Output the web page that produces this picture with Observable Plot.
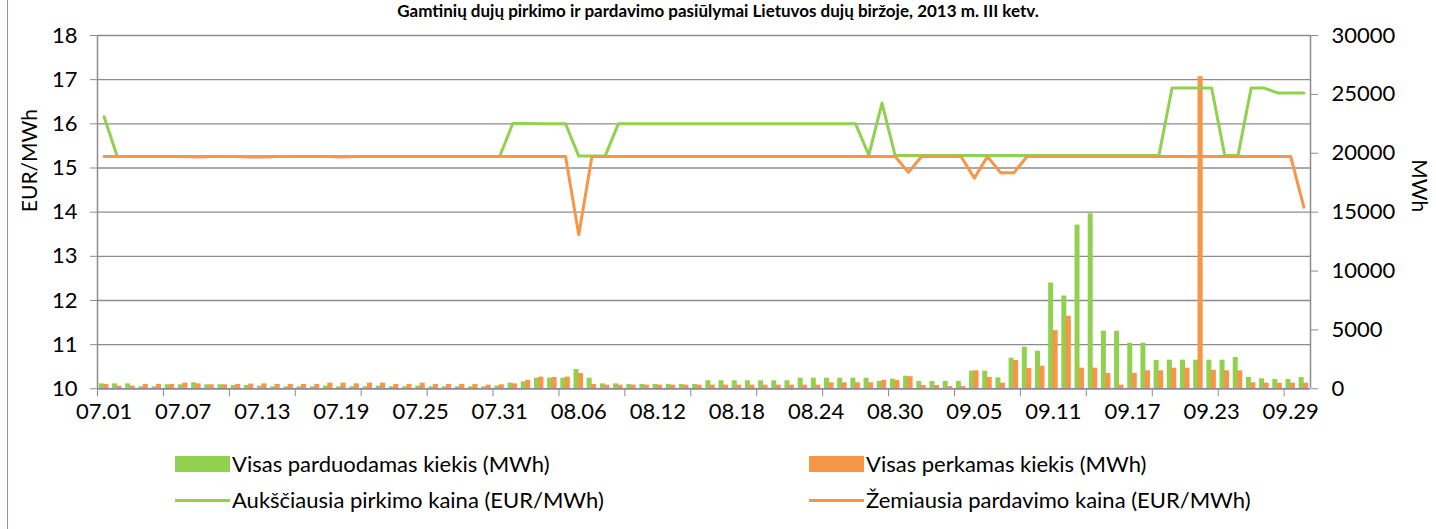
<!DOCTYPE html>
<html>
<head>
<meta charset="utf-8">
<script src="https://cdn.jsdelivr.net/npm/d3@7"></script>
<script src="https://cdn.jsdelivr.net/npm/@observablehq/plot@0.6"></script>
<style>
  html, body { margin: 0; padding: 0; background: #fff; }
  body { width: 1436px; height: 529px; position: relative; overflow: hidden; font-family: Lato, "Open Sans", sans-serif; }
  #frame { position: absolute; left: 7px; top: 0; width: 1px; height: 529px; background: #7a96c8; }
  #title { position: absolute; left: 0; width: 1436px; top: 1px; text-align: center; font-weight: bold; font-size: 17px; line-height: 19px; white-space: nowrap; }
  #chart { position: absolute; left: 0; top: 0; }
  .lg { position: absolute; font-size: 22px; line-height: 26px; white-space: nowrap; color: #000; }
  .sw { position: absolute; }
</style>
</head>
<body>
<div id="frame"></div>
<div id="chart"></div>
<div id="title">Gamtinių dujų pirkimo ir pardavimo pasiūlymai Lietuvos dujų biržoje, 2013 m. III ketv.</div>
<div id="legend"></div>
<script>
// Categories (days, 2013 Q3)
const dates = [
 "07.01","07.02","07.03","07.04","07.05","07.06","07.07","07.08","07.09","07.10","07.11","07.12","07.13","07.14","07.15","07.16","07.17","07.18","07.19","07.20","07.21","07.22","07.23","07.24","07.25","07.26","07.27","07.28","07.29","07.30","07.31",
 "08.01","08.02","08.03","08.04","08.05","08.06","08.07","08.08","08.09","08.10","08.11","08.12","08.13","08.14","08.15","08.16","08.17","08.18","08.19","08.20","08.21","08.22","08.23","08.24","08.25","08.26","08.27","08.28","08.29","08.30","08.31",
 "09.01","09.02","09.03","09.04","09.05","09.06","09.07","09.08","09.09","09.10","09.11","09.12","09.13","09.14","09.15","09.16","09.17","09.18","09.19","09.20","09.21","09.22","09.23","09.24","09.25","09.26","09.27","09.28","09.29","09.30"
];
// Visas parduodamas kiekis (MWh)
const sellQty = [
 420,420,420,170,170,340,340,510,340,340,280,280,230,170,170,170,170,230,170,170,170,230,170,170,230,170,170,170,170,170,230,
 480,590,900,900,900,1640,900,420,420,370,370,370,370,370,370,680,680,680,680,680,680,680,900,900,900,900,900,900,630,820,1070,
 620,620,620,620,1500,1500,930,2600,3530,3190,8980,7880,13900,14860,4890,4890,3870,3870,2400,2430,2430,2430,2430,2430,2660,960,850,790,790,960
];
// Visas perkamas kiekis (MWh)
const buyQty = [
 370,230,230,370,370,370,480,420,340,340,370,400,420,370,370,370,370,480,480,420,480,480,370,370,480,370,370,370,370,310,340,
 420,710,990,960,990,1300,370,310,310,310,310,310,310,310,310,310,310,310,310,310,310,310,310,310,510,510,510,510,710,710,1020,
 280,280,200,200,1530,960,480,2400,1720,1920,4940,6160,1750,1750,1300,310,1300,1530,1530,1750,1750,26500,1580,1530,1530,510,480,480,480,480
];
// Aukščiausia pirkimo kaina (EUR/MWh)
const buyPriceMax = [
 16.16,15.26,15.26,15.26,15.26,15.26,15.26,15.26,15.26,15.26,15.26,15.26,15.26,15.26,15.26,15.26,15.26,15.26,15.26,15.26,15.26,15.26,15.26,15.26,15.26,15.26,15.26,15.26,15.26,15.26,15.26,
 16.01,16.01,16.00,16.00,16.00,15.27,15.27,15.27,16.00,16.00,16.00,16.00,16.00,16.00,16.00,16.00,16.00,16.00,16.00,16.00,16.00,16.00,16.00,16.00,16.00,16.00,16.00,15.29,16.47,15.28,15.28,
 15.28,15.28,15.28,15.28,15.28,15.28,15.28,15.28,15.28,15.28,15.28,15.28,15.28,15.28,15.28,15.28,15.28,15.28,15.28,16.81,16.81,16.81,16.81,15.28,15.28,16.81,16.81,16.70,16.70,16.70
];
// Žemiausia pardavimo kaina (EUR/MWh)
const sellPriceMin = [
 15.26,15.26,15.26,15.26,15.26,15.26,15.26,15.25,15.26,15.26,15.26,15.25,15.25,15.26,15.26,15.26,15.26,15.26,15.25,15.26,15.26,15.26,15.26,15.26,15.26,15.26,15.26,15.26,15.26,15.26,15.26,
 15.26,15.26,15.26,15.26,15.26,13.49,15.26,15.26,15.26,15.26,15.26,15.26,15.26,15.26,15.26,15.26,15.26,15.26,15.26,15.26,15.26,15.26,15.26,15.26,15.26,15.26,15.26,15.26,15.26,15.26,14.90,
 15.26,15.26,15.26,15.26,14.77,15.26,14.89,14.89,15.26,15.26,15.26,15.26,15.26,15.26,15.26,15.26,15.26,15.26,15.26,15.26,15.26,15.26,15.26,15.26,15.26,15.26,15.26,15.26,15.26,14.11
];
const leftTicks = [10, 11, 12, 13, 14, 15, 16, 17, 18];
const rightTicks = [0, 5000, 10000, 15000, 20000, 25000, 30000];
const xLabelIdx = [0, 6, 12, 18, 24, 30, 36, 42, 48, 54, 60, 66, 72, 78, 84, 90];
const xTickIdx = [0, 5, 10, 15, 20, 25, 30, 35, 40, 45, 50, 55, 60, 65, 70, 75, 80, 85, 90];

const GREEN = "#92d050", ORANGE = "#f79646", GRID = "#8c8c8c";
// right axis (MWh) mapped onto the left scale domain [10, 18]
const mwh = v => 10 + v / 3750;

const rows = dates.map((d, i) => ({i, date: d, sell: sellQty[i], buy: buyQty[i], hi: buyPriceMax[i], lo: sellPriceMin[i]}));

const chart = Plot.plot({
  width: 1436,
  height: 440,
  marginLeft: 97,
  marginRight: 126,
  marginTop: 35,
  marginBottom: 51.7,
  x: {type: "linear", domain: [0, dates.length], axis: null},
  y: {domain: [10, 18], axis: null},
  style: {fontFamily: "Lato, 'Open Sans', sans-serif", fontSize: "22px", color: "#000", background: "transparent", overflow: "visible"},
  marks: [
    Plot.ruleY(leftTicks, {stroke: GRID, strokeWidth: 1.3}),
    Plot.rect(rows, {x1: d => d.i + 0.14, x2: d => d.i + 0.52, y1: 10, y2: d => mwh(d.sell), fill: GREEN}),
    Plot.rect(rows, {x1: d => d.i + 0.47, x2: d => d.i + 0.86, y1: 10, y2: d => mwh(d.buy), fill: ORANGE}),
    Plot.line(rows, {x: d => d.i + 0.5, y: "hi", stroke: GREEN, strokeWidth: 3, strokeLinejoin: "round"}),
    Plot.line(rows, {x: d => d.i + 0.5, y: "lo", stroke: ORANGE, strokeWidth: 3, strokeLinejoin: "round"}),
    Plot.ruleX([0, dates.length], {stroke: GRID, strokeWidth: 1.5}),
    Plot.ruleY([10], {stroke: GRID, strokeWidth: 1.5}),
    Plot.axisY(leftTicks, {anchor: "left", tickSize: 7, tickPadding: 13, stroke: GRID, fontSize: 22, tickFormat: d => String(d)}),
    Plot.axisY(rightTicks.map(mwh), {anchor: "right", tickSize: 7, tickPadding: 14, stroke: GRID, fontSize: 22, tickFormat: d => String(Math.round((d - 10) * 3750))}),
    Plot.axisX(xTickIdx, {anchor: "bottom", tickSize: 8, stroke: GRID, tickFormat: () => ""}),
    Plot.axisX(xLabelIdx.map(i => i + 0.5), {anchor: "bottom", tickSize: 0, tickPadding: 15, fontSize: 22, tickFormat: d => dates[Math.round(d - 0.5)]}),
    Plot.text(["EUR/MWh"], {frameAnchor: "left", dx: -67, rotate: -90, fontSize: 21}),
    Plot.text(["MWh"], {frameAnchor: "right", dx: 108, rotate: 90, fontSize: 21})
  ]
});
document.getElementById("chart").appendChild(chart);

// Legend
const legendItems = [
  {label: "Visas parduodamas kiekis (MWh)", color: GREEN, kind: "box", left: 175, top: 464},
  {label: "Visas perkamas kiekis (MWh)", color: ORANGE, kind: "box", left: 809, top: 464},
  {label: "Aukščiausia pirkimo kaina (EUR/MWh)", color: GREEN, kind: "line", left: 175, top: 500},
  {label: "Žemiausia pardavimo kaina (EUR/MWh)", color: ORANGE, kind: "line", left: 809, top: 500}
];
const lg = document.getElementById("legend");
for (const it of legendItems) {
  const sw = document.createElement("div");
  sw.className = "sw";
  sw.style.left = it.left + "px";
  sw.style.width = "55px";
  sw.style.background = it.color;
  if (it.kind === "box") { sw.style.top = (it.top - 8) + "px"; sw.style.height = "16px"; }
  else { sw.style.top = (it.top - 1.5) + "px"; sw.style.height = "3px"; }
  lg.appendChild(sw);
  const t = document.createElement("div");
  t.className = "lg";
  t.style.left = (it.left + 57) + "px";
  t.style.top = (it.top - 13) + "px";
  t.textContent = it.label;
  lg.appendChild(t);
}
</script>
</body>
</html>
